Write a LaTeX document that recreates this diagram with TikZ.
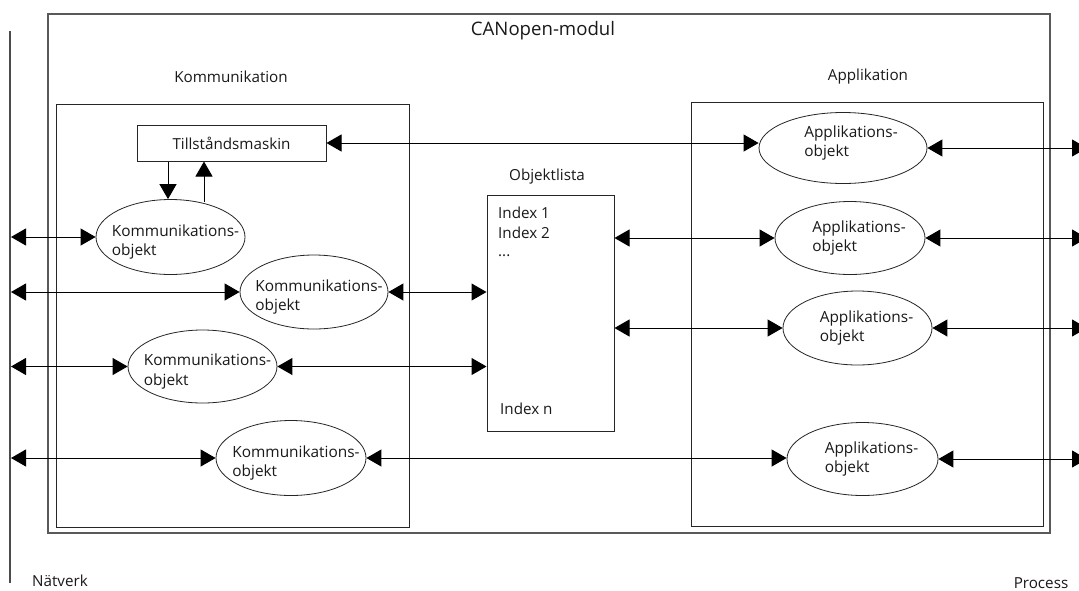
\documentclass[tikz,border=0pt]{standalone}
\usepackage{fontspec}
\setmainfont{Open Sans}
\usetikzlibrary{arrows.meta,shapes.geometric}
% two-line label of an object: #1 indent, #2 vertical offset, #3/#4 the lines
\newcommand\objlines[4]{\raisebox{#2}[\height][\depth]{\hspace*{#1}\begin{tabular}{@{}l@{}}#3\\#4\end{tabular}}}
\begin{document}
\begin{tikzpicture}[x=1pt,y=-1pt,
  txt/.style={font=\fontsize{15.2}{19.5}\selectfont, inner sep=0pt, text=black!90},
  frame/.style={draw=black!65, line width=1.4pt},
  box/.style={draw=black!85, line width=1pt, inner sep=0pt},
  obj/.style={ellipse, draw=black!85, line width=0.8pt, inner xsep=-40pt, inner ysep=-25pt,
    font=\fontsize{15.4}{19.5}\selectfont, text=black!90},
  tri/.tip={Triangle[length=15pt,width=17pt]},
  link/.style={line width=1pt, tri-tri},
  oneway/.style={line width=1pt, -tri}
]
\clip (0,0) rectangle (1079,590);
\fill[white] (0,0) rectangle (1079,590);

% network bus on the left
\coordinate (nettop) at (10,31);
\coordinate (netbot) at (10,583);
\draw[draw=black!70, line width=1.2pt] (nettop) -- (netbot);

% enclosing module and its two areas
\node[frame, minimum width=1002pt, minimum height=519pt] (modul) at (549,273.5) {};
\node[box, minimum width=353pt, minimum height=423pt] (komm) at (232.5,315.5) {};
\node[box, minimum width=352pt, minimum height=424pt] (appl) at (867,314) {};

% headings
\node[txt, font=\fontsize{18.6}{22}\selectfont] (titel) at (543,31) {CANopen-modul};
\node[txt] (kommtxt) at (231,77) {Kommunikation};
\node[txt] (appltxt) at (868,77) {Applikation};
\node[txt] (listtxt) at (547,177) {Objektlista};
\node[txt, anchor=west] (natverk) at (32,581) {Nätverk};
\node[txt] (process) at (1041,583) {Process};

% state machine
\node[box, minimum width=189pt, minimum height=36pt, txt] (tm) at (231.5,143) {Tillståndsmaskin};

% object dictionary
\node[box, minimum width=127pt, minimum height=236pt] (ol) at (550.5,313) {};
\node[txt, anchor=west] (i1) at (498,213) {Index 1};
\node[txt, anchor=west] (i2) at (498,233) {Index 2};
\node[txt, anchor=west] (idots) at (498,256) {...};
\node[txt, anchor=west] (in) at (500,409) {Index n};

% communication objects
\node[obj, minimum width=149pt, minimum height=75pt] (k1) at (170.5,237) {\objlines{10pt}{-5pt}{Kommunikations-}{objekt}};
\node[obj, minimum width=148pt, minimum height=74pt] (k2) at (314,292) {\objlines{10pt}{-5pt}{Kommunikations-}{objekt}};
\node[obj, minimum width=149pt, minimum height=73pt] (k3) at (202.5,366.5) {\objlines{10pt}{-5pt}{Kommunikations-}{objekt}};
\node[obj, minimum width=150pt, minimum height=75pt] (k4) at (291,458) {\objlines{10pt}{-5pt}{Kommunikations-}{objekt}};

% application objects
\node[obj, minimum width=168pt, minimum height=71pt] (a1) at (843,148) {\objlines{16pt}{5pt}{Applikations-}{objekt}};
\node[obj, minimum width=150pt, minimum height=73pt] (a2) at (850,238) {\objlines{18pt}{0pt}{Applikations-}{objekt}};
\node[obj, minimum width=149pt, minimum height=74pt] (a3) at (857.5,328) {\objlines{18pt}{0pt}{Applikations-}{objekt}};
\node[obj, minimum width=151pt, minimum height=73pt] (a4) at (862.5,459) {\objlines{18pt}{0pt}{Applikations-}{objekt}};

% free ends on the network and process sides
\coordinate (n1) at (11,237);
\coordinate (n2) at (11,292);
\coordinate (n3) at (11,366.5);
\coordinate (n4) at (11,458);
\coordinate (p1) at (1087,148);
\coordinate (p2) at (1087,238);
\coordinate (p3) at (1087,328);
\coordinate (p4) at (1087,459);

% network links
\draw[link] (n1) -- (k1.west);
\draw[link] (n2) -- (k2.west);
\draw[link] (n3) -- (k3.west);
\draw[link] (n4) -- (k4.west);

% state machine <-> communication object
\draw[oneway] ([xshift=-63.5pt]tm.south) -- ([xshift=-63.5pt]tm.south |- k1.north);
\draw[oneway] ([xshift=-27.5pt]tm.south |- k1.north) ++(0,2.5) -- ([xshift=-27.5pt]tm.south);

% internal links
\draw[link] (tm.east) -- (tm.east -| a1.west);
\draw[link] (k2.east) -- (ol.west |- k2.east);
\draw[link] (k3.east) -- (ol.west |- k3.east);
\draw[link] (ol.east |- a2.west) -- (a2.west);
\draw[link] (ol.east |- a3.west) -- (a3.west);
\draw[link] (k4.east) -- (k4.east -| a4.west);

% process links
\draw[link] (a1.east) -- (p1);
\draw[link] (a2.east) -- (p2);
\draw[link] (a3.east) -- (p3);
\draw[link] (a4.east) -- (p4);
\end{tikzpicture}
\end{document}
